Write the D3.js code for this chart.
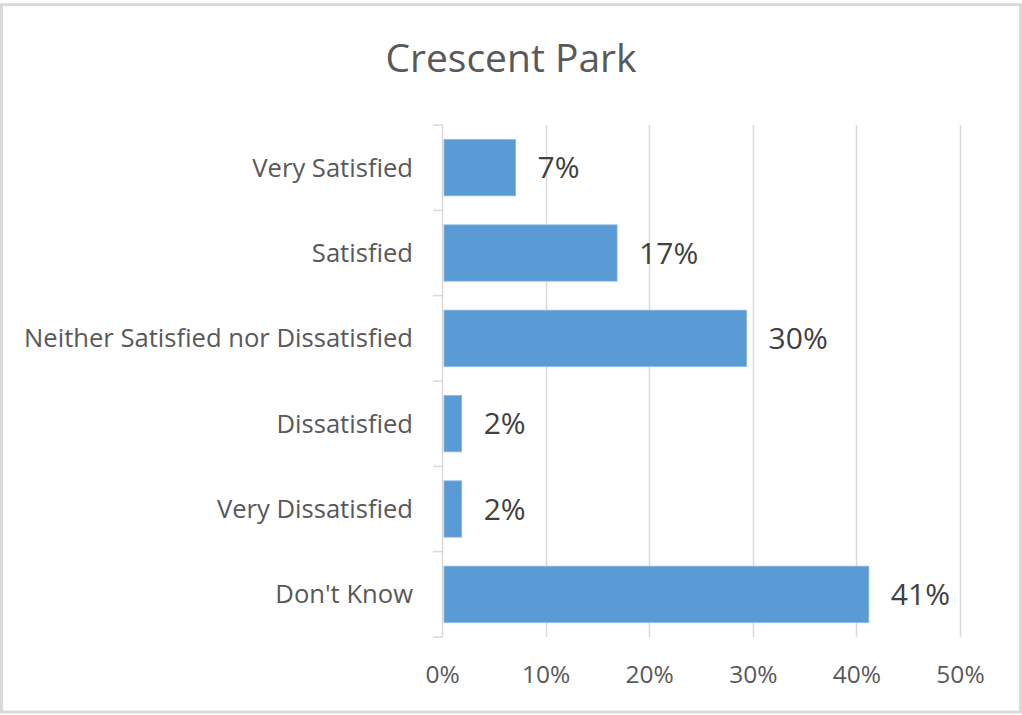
<!DOCTYPE html>
<html>
<head>
<meta charset="utf-8">
<script src="https://cdn.jsdelivr.net/npm/d3@7"></script>
<style>
  html, body { margin: 0; padding: 0; background: #ffffff; }
  svg { display: block; }
  text { font-family: "Open Sans", "Noto Sans", sans-serif; }
</style>
</head>
<body>
<svg id="chart" width="1022" height="715"></svg>
<script>
const title = "Crescent Park";
const categories = ["Very Satisfied", "Satisfied", "Neither Satisfied nor Dissatisfied", "Dissatisfied", "Very Dissatisfied", "Don't Know"];
const values = [0.071, 0.169, 0.294, 0.019, 0.019, 0.412];
const dataLabels = ["7%", "17%", "30%", "2%", "2%", "41%"];
const xTicks = [0, 0.1, 0.2, 0.3, 0.4, 0.5];

const svg = d3.select("#chart");

svg.append("rect")
  .attr("x", 1.5).attr("y", 4.7).attr("width", 1019).attr("height", 707.3)
  .attr("fill", "#ffffff").attr("stroke", "#d9d9d9").attr("stroke-width", 3);

const x = d3.scaleLinear().domain([0, 0.5]).range([442, 960]);
const y = d3.scaleBand().domain(categories).range([125, 637]).paddingInner(0.34).paddingOuter(0.17);

// gridlines
svg.append("g").selectAll("line").data(xTicks.slice(1)).join("line")
  .attr("x1", d => Math.round(x(d)) + 0.5).attr("x2", d => Math.round(x(d)) + 0.5)
  .attr("y1", 125).attr("y2", 637)
  .attr("stroke", "#d9d9d9").attr("stroke-width", 1.5);

// x tick labels
const xAxis = d3.axisBottom(x).tickValues(xTicks).tickFormat(d3.format(".0%")).tickSize(0).tickPadding(0);
const gx = svg.append("g").attr("transform", "translate(0,674)").call(xAxis);
gx.select(".domain").remove();
gx.selectAll("text").attr("font-size", 24.5).attr("fill", "#595959").attr("dy", "0.35em")
  .style("font-family", "'Open Sans', sans-serif");

// y axis
const boundaries = d3.range(categories.length + 1).map(i => 125 + i * (512 / categories.length));
const gy = svg.append("g");
gy.append("line").attr("x1", 442.5).attr("x2", 442.5).attr("y1", 125).attr("y2", 637)
  .attr("stroke", "#d9d9d9").attr("stroke-width", 1.5);
gy.selectAll("line.tk").data(boundaries).join("line").attr("class", "tk")
  .attr("x1", 433).attr("x2", 442.5).attr("y1", d => d).attr("y2", d => d)
  .attr("stroke", "#d9d9d9").attr("stroke-width", 1.5);

svg.append("g").selectAll("text").data(categories).join("text")
  .attr("x", 413).attr("y", d => y(d) + y.bandwidth() / 2)
  .attr("dy", "0.35em").attr("text-anchor", "end")
  .attr("font-size", 25.6).attr("fill", "#595959")
  .text(d => d);

// bars
svg.append("g").selectAll("rect").data(values).join("rect")
  .attr("x", x(0) + 2).attr("y", (d, i) => y(categories[i]))
  .attr("width", d => x(d) - x(0) - 2).attr("height", y.bandwidth())
  .attr("fill", "#5b9bd5").attr("stroke", "#8ab8e2").attr("stroke-width", 0.8);

// data labels
svg.append("g").selectAll("text").data(values).join("text")
  .attr("x", d => x(d) + 22).attr("y", (d, i) => y(categories[i]) + y.bandwidth() / 2)
  .attr("dy", "0.35em").attr("font-size", 30).attr("fill", "#404040")
  .text((d, i) => dataLabels[i]);

// title
svg.append("text").attr("x", 511).attr("y", 72).attr("text-anchor", "middle")
  .attr("font-size", 39).attr("fill", "#595959").text(title);
</script>
</body>
</html>
